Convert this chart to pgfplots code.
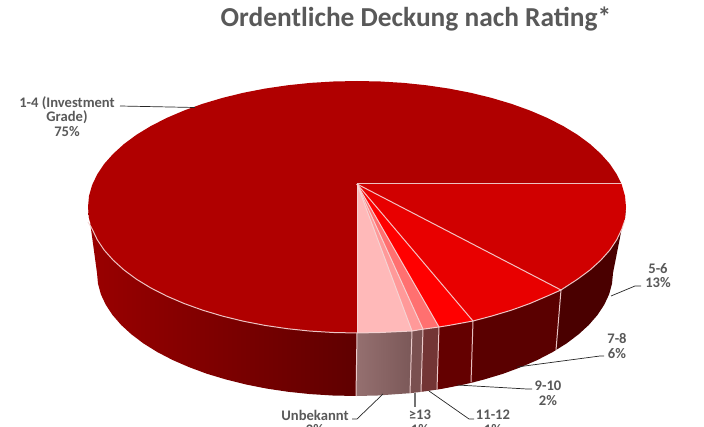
\documentclass[border=0pt]{standalone}
\usepackage{pgfplots}
\pgfplotsset{compat=1.18}
\usepackage{fontspec}
\setmainfont{Carlito}
\definecolor{labc}{HTML}{595959}
\definecolor{edge}{HTML}{F5D5D5}
\definecolor{wallL}{HTML}{9A0000}
\definecolor{wallR}{HTML}{5F0000}
\definecolor{unbL}{HTML}{957070}
\definecolor{unbR}{HTML}{7B5858}
\tikzset{
  labst/.style={font=\bfseries\fontsize{14.6}{14.6}\selectfont,text=labc,align=center,inner sep=0pt},
  lead/.style={draw=black!85,line width=0.7pt},
  seam/.style={draw=edge,line width=1pt,opacity=0.9}}
\begin{document}
\begin{tikzpicture}
\path[use as bounding box,clip] (0,0) rectangle (704pt,427pt);
\begin{axis}[at={(0,0)},anchor=south west,scale only axis,width=704pt,height=427pt,
  xmin=0,xmax=704,ymin=0,ymax=427,y dir=reverse,hide axis,clip=false,
  every axis plot/.append style={no markers,forget plot}]

% walls
\addplot[left color=wallL,right color=wallR,draw=none] coordinates {
(88,207)(89,218)(92.1,228.9)(97.2,239.6)(104.2,250.1)(113.2,260.2)(124,270)(136.6,279.3)(150.9,288)(166.8,296.1)(184.1,303.5)(202.7,310.2)(222.5,316.1)(243.3,321.2)(265,325.4)(287.4,328.7)(310.3,331.1)(333.5,332.5)(357,333)
(356,396)(332.5,395.5)(310.2,394.1)(288.2,391.8)(266.8,388.6)(246,384.5)(226,379.5)(207,373.8)(189.2,367.2)(172.6,360)(157.4,352.1)(143.7,343.6)(131.6,334.5)(121.2,325)(112.6,315.1)(105.8,304.8)(100.9,294.4)(98,283.7)(97,273)};
% Unbekannt wall
\addplot[left color=unbL,right color=unbR,draw=none] coordinates {
(357,333)(380.5,332.5)(412,331)(410,393.2)(377.5,395.5)(356,396)};
% >=13 wall
\addplot[fill={rgb,255:red,122;green,80;blue,80},draw=none] coordinates {(412,331)(423,329.2)(421,391.9)(410,393.2)};
% 11-12 wall
\addplot[fill={rgb,255:red,115;green,53;blue,53},draw=none] coordinates {(423,329.2)(426.6,328.7)(439,327)(437,389.6)(421,391.9)};
% 9-10 wall
\addplot[fill={rgb,255:red,100;green,0;blue,0},draw=none] coordinates {(439,327)(449,325.4)(473,321)(473,382.4)(464,384.5)(443.2,388.6)(437,389.6)};
% 7-8 wall
\addplot[fill={rgb,255:red,90;green,0;blue,0},draw=none] coordinates {(473,321)(491.5,316.1)(511.3,310.2)(529.9,303.5)(547.2,296.1)(561,290)(556,350)(552.6,352.1)(537.4,360)(520.8,367.2)(503,373.8)(484,379.5)(473,382.4)};
% 5-6 wall
\addplot[fill={rgb,255:red,74;green,0;blue,0},draw=none] coordinates {(561,290)(563.1,288)(577.4,279.3)(590,270)(600.8,260.2)(609.8,250.1)(616.8,239.6)(621.9,228.9)(625,218)(626,207)(613,273)(612,283.7)(609.1,294.4)(604.2,304.8)(597.4,315.1)(588.8,325)(578.4,334.5)(566.3,343.6)(556,350)};

% top: 1-4
\addplot[fill={rgb,255:red,176;green,0;blue,0},draw=none] coordinates {
(357,184)(357,333)(333.5,332.5)(310.3,331.1)(287.4,328.7)(265,325.4)(243.3,321.2)(222.5,316.1)(202.7,310.2)(184.1,303.5)(166.8,296.1)(150.9,288)(136.6,279.3)(124,270)(113.2,260.2)(104.2,250.1)(97.2,239.6)(92.1,228.9)(89,218)(88,207)
(89,196)(92.1,185.1)(97.2,174.4)(104.2,163.9)(113.2,153.8)(124,144)(136.6,134.7)(150.9,126)(166.8,117.9)(184.1,110.5)(202.7,103.8)(222.5,97.9)(243.3,92.8)(265,88.6)(287.4,85.3)(310.3,82.9)(333.5,81.5)(357,81)
(380.5,81.5)(403.7,82.9)(426.6,85.3)(449,88.6)(470.7,92.8)(491.5,97.9)(511.3,103.8)(529.9,110.5)(547.2,117.9)(563.1,126)(577.4,134.7)(590,144)(600.8,153.8)(609.8,163.9)(616.8,174.4)(621.5,184)};
% 5-6
\addplot[fill={rgb,255:red,208;green,0;blue,0},draw=none] coordinates {
(357,184)(621.5,184)(621.9,185.1)(625,196)(626,207)(625,218)(621.9,228.9)(616.8,239.6)(609.8,250.1)(600.8,260.2)(590,270)(577.4,279.3)(563.1,288)(561,290)};
% 7-8
\addplot[fill={rgb,255:red,232;green,0;blue,0},draw=none] coordinates {
(357,184)(561,290)(547.2,296.1)(529.9,303.5)(511.3,310.2)(491.5,316.1)(473,321)};
% 9-10
\addplot[fill={rgb,255:red,255;green,0;blue,0},draw=none] coordinates {(357,184)(473,321)(449,325.4)(439,327)};
% 11-12
\addplot[fill={rgb,255:red,255;green,112;blue,112},draw=none] coordinates {(357,184)(439,327)(426.6,328.7)(423,329.2)};
% >=13
\addplot[fill={rgb,255:red,255;green,153;blue,153},draw=none] coordinates {(357,184)(423,329.2)(412,331)};
% Unbekannt
\addplot[fill={rgb,255:red,255;green,185;blue,185},draw=none] coordinates {(357,184)(412,331)(380.5,332.5)(357,333)};

% seams on top
\addplot[seam] coordinates {(357,184)(621.5,184)};
\addplot[seam] coordinates {(357,184)(561,290)};
\addplot[seam] coordinates {(357,184)(473,321)};
\addplot[seam] coordinates {(357,184)(439,327)};
\addplot[seam] coordinates {(357,184)(423,329.2)};
\addplot[seam] coordinates {(357,184)(412,331)};
\addplot[seam] coordinates {(357,184)(357,333)};
% seams on wall
\addplot[seam] coordinates {(561,290)(556,350)};
\addplot[seam] coordinates {(473,321)(471,382.4)};
\addplot[seam] coordinates {(439,327)(437,389.6)};
\addplot[seam] coordinates {(423,329.2)(421,391.9)};
\addplot[seam] coordinates {(412,331)(410,393.2)};
\addplot[seam] coordinates {(357,333)(356,396)};
% front rim
\addplot[seam] coordinates {(88,222)(92.1,228.9)(97.2,239.6)(104.2,250.1)(113.2,260.2)(124,270)(136.6,279.3)(150.9,288)(166.8,296.1)(184.1,303.5)(202.7,310.2)(222.5,316.1)(243.3,321.2)(265,325.4)(287.4,328.7)(310.3,331.1)(333.5,332.5)(357,333)(380.5,332.5)(412,331)(423,329.2)(439,327)(449,325.4)(473,321)(491.5,316.1)(511.3,310.2)(529.9,303.5)(547.2,296.1)(561,290)(577.4,279.3)(590,270)(600.8,260.2)(609.8,250.1)(616.8,239.6)(621.9,228.9)(625,220)};

% leaders
\addplot[lead] coordinates {(120,106)(195,107.5)};
\addplot[lead] coordinates {(611,296)(635,286)(641,286)};
\addplot[lead] coordinates {(517,367)(600,356)(604,356)};
\addplot[lead] coordinates {(457,385)(527,389)(532,389)};
\addplot[lead] coordinates {(383,394)(357,419)(352,419)};
\addplot[draw=black!55,line width=1.4pt] coordinates {(415,393)(415,407)};
\addplot[lead] coordinates {(429,391)(469,419)(474,419)};

% texts
\node[text=labc,font=\bfseries\fontsize{27.4}{30}\selectfont,inner sep=0pt] at (axis cs:416,19) {Ordentliche Deckung nach Rating*};
\node[labst] at (axis cs:67,116.5) {1-4 (Investment\\Grade)\\75\%};
\node[labst] at (axis cs:658,275.5) {5-6\\13\%};
\node[labst] at (axis cs:617,346) {7-8\\6\%};
\node[labst] at (axis cs:548,393) {9-10\\2\%};
\node[labst] at (axis cs:315,422.5) {Unbekannt\\2\%};
\node[labst] at (axis cs:420,422.5) {≥13\\1\%};
\node[labst] at (axis cs:493,422.5) {11-12\\1\%};
\end{axis}
\end{tikzpicture}
\end{document}
